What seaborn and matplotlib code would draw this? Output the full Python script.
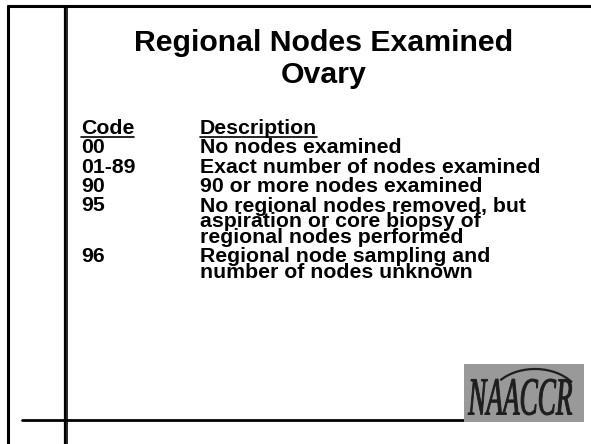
import seaborn as sns
import matplotlib.pyplot as plt
from matplotlib.patches import Rectangle, Arc, PathPatch
from matplotlib.textpath import TextPath
from matplotlib.font_manager import FontProperties
from matplotlib.transforms import Affine2D

# ------------------------------ DONNEES ------------------------------
titre = ["Regional Nodes Examined", "Ovary"]
entetes = ["Code", "Description"]
codes = ["00", "01-89", "90", "95", "96"]
descriptions = [
    ["No nodes examined"],
    ["Exact number of nodes examined"],
    ["90 or more nodes examined"],
    ["No regional nodes removed, but", "aspiration or core biopsy of", "regional nodes performed"],
    ["Regional node sampling and", "number of nodes unknown"],
]
logo = "NAACCR"

# ------------------------------ STYLE --------------------------------
sns.set_theme(style="white")
plt.rcParams['font.family'] = ['Liberation Sans', 'DejaVu Sans']
plt.rcParams['text.color'] = 'black'

fig = plt.figure(figsize=(5.91, 4.44), dpi=100)
ax = fig.add_axes([0, 0, 1, 1])
ax.set_xlim(0, 591)
ax.set_ylim(444, 0)
ax.axis("off")

# cadre de la diapo
ax.plot([8, 8], [6, 444], color="black", lw=2.2)
ax.plot([8, 591], [6, 6], color="black", lw=2.2)
ax.plot([64.5, 64.5], [6, 444], color="black", lw=1.6)
ax.plot([66.5, 66.5], [6, 444], color="black", lw=1.2)
ax.plot([22, 578], [419.5, 419.5], color="black", lw=2.0)

# titre
ax.text(324, 43, titre[0], ha="center", va="center", fontsize=21.8, fontweight="bold")
ax.text(324, 75, titre[1], ha="center", va="center", fontsize=21.8, fontweight="bold")

# tableau
xc, xd = 81, 200
fs = 15.3
pas = 15.8  # interligne dans une description
y = 134
t1 = ax.text(xc, y, entetes[0], fontsize=fs, fontweight="bold", va="baseline")
t2 = ax.text(xd, y, entetes[1], fontsize=fs, fontweight="bold", va="baseline")

for code, desc in zip(codes, descriptions):
    y += 19.3
    ax.text(xc, y, code, fontsize=fs, fontweight="bold", va="baseline")
    y += (len(desc) - 1) * pas
    # va=baseline aligne la derniere ligne
    ax.text(xd, y, "\n".join(desc), fontsize=fs, fontweight="bold", va="baseline",
            linespacing=0.77)

# soulignement des entetes
fig.canvas.draw()
r = fig.canvas.get_renderer()
for t in (t1, t2):
    bb = t.get_window_extent(r)
    ax.plot([bb.x0, bb.x1], [137, 137], color="black", lw=1.2)

# logo
ax.add_patch(Rectangle((464, 364), 120, 58, facecolor="#999999", edgecolor="none", zorder=3))
ax.add_patch(Arc((535, 402), 92, 66, theta1=212, theta2=332, color="#1e1e1e", lw=1.6, zorder=4))
tp = TextPath((0, 0), logo, size=10, prop=FontProperties(family="Liberation Serif", style="italic"))
ext = tp.get_extents()
sx = 104 / ext.width
sy = 36 / ext.height
tr = Affine2D().translate(-ext.x0, -ext.y0).scale(sx, -sy).translate(468, 415) + ax.transData
ax.add_patch(PathPatch(tp, facecolor="#1e1e1e", edgecolor="#1e1e1e", lw=0.7,
                       transform=tr, zorder=5))

fig.savefig("out.png", dpi=100)
